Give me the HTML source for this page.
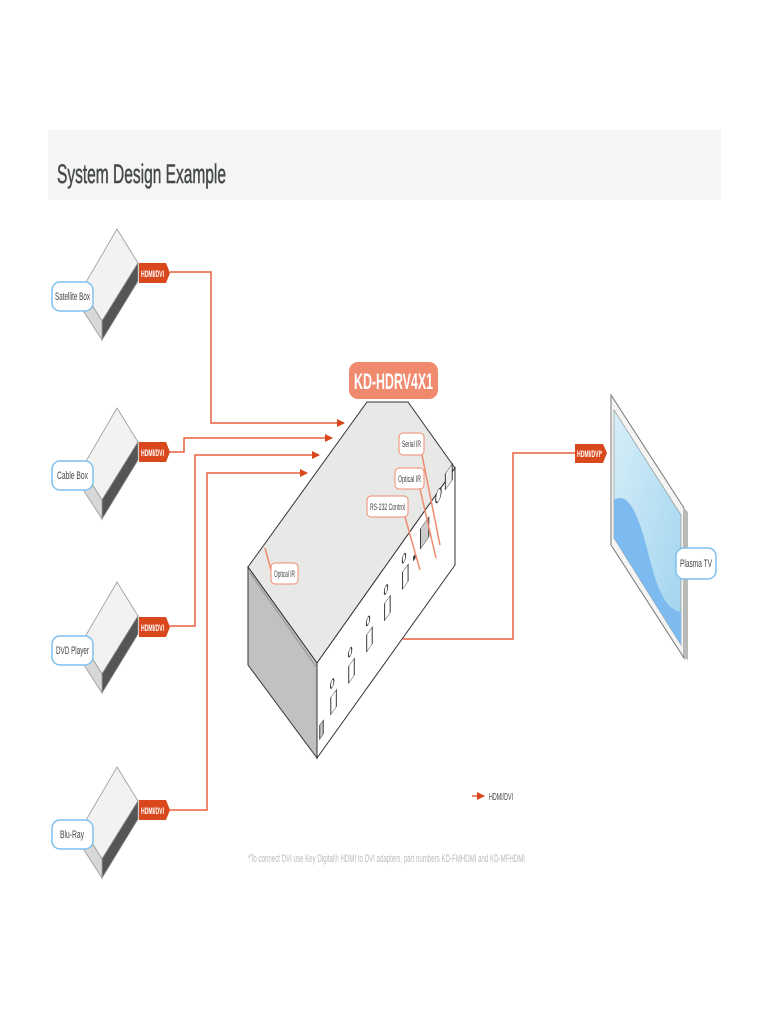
<!DOCTYPE html>
<html><head><meta charset="utf-8"><style>
html,body{margin:0;padding:0;background:#fff}
svg{display:block}
text{font-family:"Liberation Sans",sans-serif}
</style></head><body>
<svg width="770" height="1024" viewBox="0 0 770 1024" xmlns="http://www.w3.org/2000/svg">
<defs>
<marker id="ar" markerWidth="8" markerHeight="8" refX="7" refY="4" orient="auto" markerUnits="userSpaceOnUse">
<path d="M0,0 L8,4 L0,8 Z" fill="#d9481c"/>
</marker>
<linearGradient id="scr" x1="0" y1="0" x2="1" y2="1">
<stop offset="0" stop-color="#d6eef8"/><stop offset="1" stop-color="#9fd3ef"/>
</linearGradient>
<g id="dev">
<polygon points="117,0 138,34 102,92 82,60" fill="#f2f2f0" stroke="#999" stroke-width="0.8"/>
<polygon points="138,34 138,52 102,111 102,92" fill="#555" stroke="#888" stroke-width="0.8"/>
<polygon points="82,60 102,92 102,111 82,80" fill="#d8d8d6" stroke="#999" stroke-width="0.8"/>
</g>
<g id="tag">
<path d="M139,0 H166 L170,10 L166,20 H139 Z" fill="#d9481c"/>
<text x="141" y="14" font-size="9" fill="#fff" font-weight="bold" textLength="23" lengthAdjust="spacingAndGlyphs">HDMI/DVI</text>
</g>
</defs>

<rect x="48" y="130" width="673" height="70" fill="#f5f5f3"/>
<text x="57" y="183" font-size="27" fill="#45494b" stroke="#45494b" stroke-width="0.5" textLength="169" lengthAdjust="spacingAndGlyphs">System Design Example</text>

<g fill="none" stroke="#e8603c" stroke-width="1.5">
<polyline points="170,272 211,272 211,423 344,423" marker-end="url(#ar)"/>
<polyline points="170,452 184,452 184,438 332,438" marker-end="url(#ar)"/>
<polyline points="170,626 195,626 195,455 319,455" marker-end="url(#ar)"/>
<polyline points="170,810 207,810 207,473 307,473" marker-end="url(#ar)"/>
<polyline points="403,639 513,639 513,453 576,453"/>
<line x1="472" y1="796" x2="484" y2="796" marker-end="url(#ar)"/>
</g>

<use href="#dev" y="229"/>
<use href="#dev" y="408"/>
<use href="#dev" y="582"/>
<use href="#dev" y="767"/>
<use href="#tag" y="263"/>
<use href="#tag" y="442"/>
<use href="#tag" y="617"/>
<use href="#tag" y="800"/>
<g font-size="11" fill="#444">
<rect x="52" y="282" width="41" height="29" rx="8" fill="#fff" stroke="#7cc0f0" stroke-width="1.5"/>
<text x="55" y="300" textLength="35" lengthAdjust="spacingAndGlyphs">Satellite Box</text>
<rect x="52" y="461" width="41" height="29" rx="8" fill="#fff" stroke="#7cc0f0" stroke-width="1.5"/>
<text x="57" y="479" textLength="31" lengthAdjust="spacingAndGlyphs">Cable Box</text>
<rect x="52" y="636" width="41" height="29" rx="8" fill="#fff" stroke="#7cc0f0" stroke-width="1.5"/>
<text x="56" y="654" textLength="33" lengthAdjust="spacingAndGlyphs">DVD Player</text>
<rect x="52" y="820" width="41" height="29" rx="8" fill="#fff" stroke="#7cc0f0" stroke-width="1.5"/>
<text x="60" y="838" textLength="24" lengthAdjust="spacingAndGlyphs">Blu-Ray</text>
</g>

<rect x="349" y="362" width="89" height="37" rx="9" fill="#f08a6e"/>
<text x="354" y="389" font-size="22" font-weight="bold" fill="#fff" textLength="79" lengthAdjust="spacingAndGlyphs">KD-HDRV4X1</text>

<polygon points="367,402 408,402 455,468 317,663 248,567" fill="#e8e9e6" stroke="#333" stroke-width="1"/>
<polygon points="317,663 455,468 455,565 317,758" fill="#fff" stroke="#333" stroke-width="1"/>
<polygon points="248,567 317,663 317,758 248,665" fill="#c0c2bf" stroke="#333" stroke-width="1"/>
<line x1="250" y1="573" x2="317" y2="668" stroke="#888" stroke-width="0.8"/>
<g transform="matrix(1.38,-1.95,0,1,317,663)" fill="#fff" stroke="#333" stroke-width="0.7">
<rect x="2" y="66" width="2.5" height="14" fill="#ccc"/>
<rect x="10" y="54" width="4" height="17"/>
<rect x="23" y="48" width="4" height="17"/>
<rect x="36" y="42" width="4" height="17"/>
<rect x="49" y="36" width="4" height="17"/>
<rect x="62" y="30" width="4" height="17"/>
<ellipse cx="11" cy="42" rx="1.2" ry="4"/>
<ellipse cx="24" cy="36" rx="1.2" ry="4"/>
<ellipse cx="37" cy="30" rx="1.2" ry="4"/>
<ellipse cx="50" cy="24" rx="1.2" ry="4"/>
<ellipse cx="63" cy="18" rx="1.2" ry="4"/>
<rect x="70" y="30" width="1" height="4" fill="#333"/>
<rect x="75" y="12" width="6" height="20" fill="#ccc"/>
<ellipse cx="88" cy="4" rx="2" ry="6"/>
<rect x="93" y="-8" width="5" height="16" fill="#eee"/>
</g>

<g stroke="#f08a6e" stroke-width="1.5" fill="none">
<path d="M422,455 L440,545"/>
<path d="M420,489 L436,558"/>
<path d="M405,517 L420,570"/>
<path d="M271,570 L265,548"/>
</g>
<g font-size="9" fill="#444">
<rect x="399" y="433" width="25" height="22" rx="4" fill="#fff" stroke="#f08a6e"/>
<text x="402" y="447" textLength="19" lengthAdjust="spacingAndGlyphs">Serial IR</text>
<rect x="395" y="468" width="29" height="21" rx="4" fill="#fff" stroke="#f08a6e"/>
<text x="398" y="482" textLength="23" lengthAdjust="spacingAndGlyphs">Optical IR</text>
<rect x="367" y="496" width="41" height="21" rx="4" fill="#fff" stroke="#f08a6e"/>
<text x="370" y="510" textLength="35" lengthAdjust="spacingAndGlyphs">RS-232 Control</text>
<rect x="271" y="563" width="27" height="21" rx="4" fill="#fff" stroke="#f08a6e"/>
<text x="274" y="577" textLength="21" lengthAdjust="spacingAndGlyphs">Optical IR</text>
</g>

<path d="M575,444 H603 L607,453 L603,463 H575 Z" fill="#d9481c"/>
<text x="577" y="457" font-size="9" fill="#fff" font-weight="bold" textLength="25" lengthAdjust="spacingAndGlyphs">HDMI/DVI*</text>

<polygon points="611,395 684,508 684,658 611,545" fill="#f4f4f2" stroke="#777" stroke-width="1"/>
<polygon points="684,508 688,512 688,660 684,658" fill="#b8bab7"/>
<polygon points="614,410 681,515 681,645 614,538" fill="url(#scr)" stroke="#888" stroke-width="0.6"/>
<path d="M614,500 C630,490 640,520 650,560 C660,600 670,610 681,612 L681,645 L614,538 Z" fill="#7dbaf0"/>
<rect x="676" y="548" width="40" height="31" rx="8" fill="#fff" stroke="#7cc0f0" stroke-width="1.5"/>
<text x="680" y="567" font-size="11" fill="#444" textLength="32" lengthAdjust="spacingAndGlyphs">Plasma TV</text>

<text x="489" y="800" font-size="10" fill="#444" textLength="24" lengthAdjust="spacingAndGlyphs">HDMI/DVI</text>
<text x="248" y="862" font-size="11" fill="#bbb" textLength="277" lengthAdjust="spacingAndGlyphs">*To connect DVI use Key Digital® HDMI to DVI adapters, part numbers KD-FMHDMI and KD-MFHDMI</text>
</svg>
</body></html>
